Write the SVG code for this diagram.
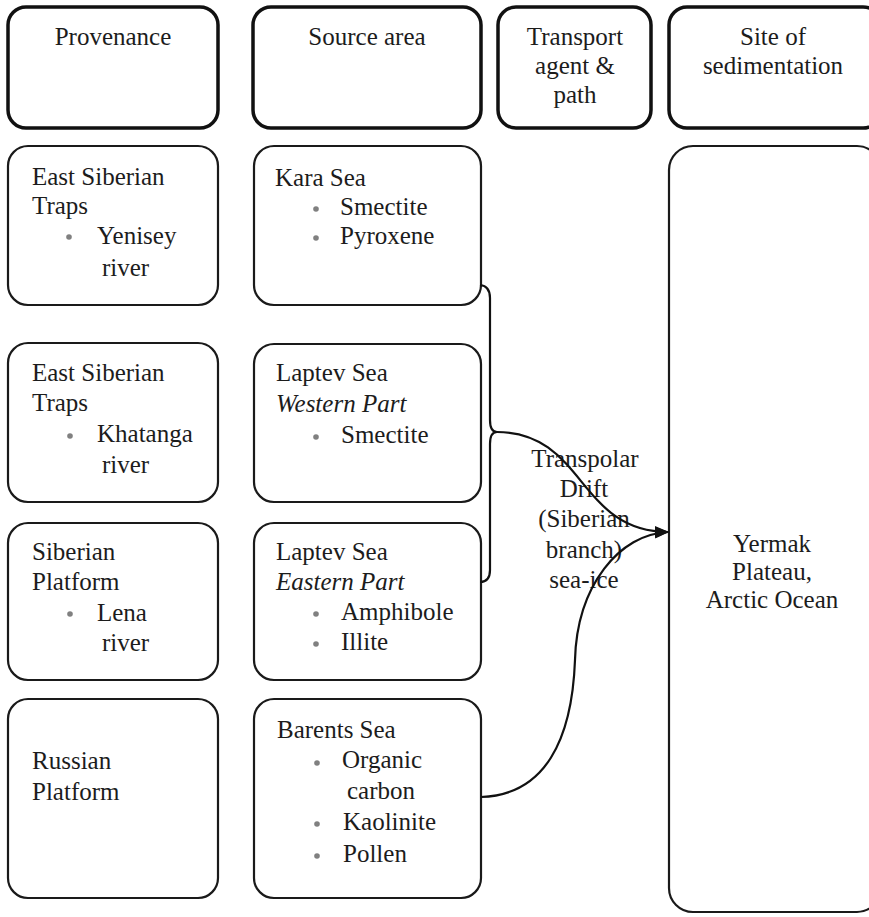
<svg xmlns="http://www.w3.org/2000/svg" width="869" height="917" viewBox="0 0 869 917">
<style>
text { font-family: "Liberation Serif", "Times New Roman", serif; font-size: 25px; fill: #1c1c1c; }
.mid { text-anchor: middle; }
.it { font-style: italic; }
.hdr { fill: #fff; stroke: #111; stroke-width: 3.5; }
.box { fill: #fff; stroke: #1a1a1a; stroke-width: 2.2; }
.dot { fill: #808080; }
.conn { fill: none; stroke: #111; stroke-width: 2.2; }
</style>
<defs>
<marker id="arr" markerWidth="14" markerHeight="12" refX="13" refY="6" orient="auto" markerUnits="userSpaceOnUse">
<path d="M0,0 L14,6 L0,12 Z" fill="#111"/>
</marker>
</defs>
<rect width="869" height="917" fill="#fff"/>

<g id="hdr-provenance">
<rect class="hdr" x="8" y="7" width="210" height="121" rx="18"/>
<text class="mid" x="113" y="45">Provenance</text>
</g>
<g id="hdr-source">
<rect class="hdr" x="253" y="7" width="228" height="121" rx="18"/>
<text class="mid" x="367" y="45">Source area</text>
</g>
<g id="hdr-transport">
<rect class="hdr" x="498" y="7" width="153" height="121" rx="18"/>
<text class="mid" x="575" y="45">Transport</text>
<text class="mid" x="575" y="74">agent &amp;</text>
<text class="mid" x="575" y="103">path</text>
</g>
<g id="hdr-site">
<rect class="hdr" x="669" y="7" width="212" height="121" rx="18"/>
<text class="mid" x="773" y="45">Site of</text>
<text class="mid" x="773" y="74">sedimentation</text>
</g>

<g id="prov-yenisey">
<rect class="box" x="8" y="146" width="210" height="159" rx="20"/>
<text x="32" y="185">East Siberian</text>
<text x="32" y="214">Traps</text>
<circle class="dot" cx="69" cy="237" r="2.8"/>
<text x="97" y="244">Yenisey</text>
<text x="102" y="276">river</text>
</g>
<g id="prov-khatanga">
<rect class="box" x="8" y="343" width="210" height="159" rx="20"/>
<text x="32" y="381">East Siberian</text>
<text x="32" y="411">Traps</text>
<circle class="dot" cx="70" cy="436" r="2.8"/>
<text x="97" y="442">Khatanga</text>
<text x="102" y="473">river</text>
</g>
<g id="prov-lena">
<rect class="box" x="8" y="523" width="210" height="157" rx="20"/>
<text x="32" y="560">Siberian</text>
<text x="32" y="590">Platform</text>
<circle class="dot" cx="70" cy="614" r="2.8"/>
<text x="97" y="621">Lena</text>
<text x="102" y="651">river</text>
</g>
<g id="prov-russian">
<rect class="box" x="8" y="699" width="210" height="199" rx="20"/>
<text x="32" y="769">Russian</text>
<text x="32" y="800">Platform</text>
</g>

<g id="src-kara">
<rect class="box" x="254" y="146" width="227" height="159" rx="20"/>
<text x="275" y="186">Kara Sea</text>
<circle class="dot" cx="316" cy="209" r="2.8"/>
<text x="340" y="215">Smectite</text>
<circle class="dot" cx="316" cy="238" r="2.8"/>
<text x="340" y="244">Pyroxene</text>
</g>
<g id="src-laptev-west">
<rect class="box" x="254" y="344" width="227" height="158" rx="20"/>
<text x="276" y="381">Laptev Sea</text>
<text class="it" x="276" y="412">Western Part</text>
<circle class="dot" cx="316" cy="437" r="2.8"/>
<text x="341" y="443">Smectite</text>
</g>
<g id="src-laptev-east">
<rect class="box" x="254" y="523" width="227" height="157" rx="20"/>
<text x="276" y="560">Laptev Sea</text>
<text class="it" x="276" y="590">Eastern Part</text>
<circle class="dot" cx="316" cy="614" r="2.8"/>
<text x="341" y="620">Amphibole</text>
<circle class="dot" cx="316" cy="644" r="2.8"/>
<text x="341" y="650">Illite</text>
</g>
<g id="src-barents">
<rect class="box" x="254" y="699" width="227" height="199" rx="20"/>
<text x="277" y="738">Barents Sea</text>
<circle class="dot" cx="317" cy="763" r="2.8"/>
<text x="342" y="768">Organic</text>
<text x="347" y="799">carbon</text>
<circle class="dot" cx="317" cy="824" r="2.8"/>
<text x="343" y="830">Kaolinite</text>
<circle class="dot" cx="317" cy="856" r="2.8"/>
<text x="343" y="862">Pollen</text>
</g>

<g id="site-yermak">
<rect class="box" x="669" y="146" width="212" height="766" rx="24"/>
<text class="mid" x="772" y="552">Yermak</text>
<text class="mid" x="772" y="580">Plateau,</text>
<text class="mid" x="772" y="608">Arctic Ocean</text>
</g>

<g id="transport-label">
<text class="mid" x="585" y="467">Transpolar</text>
<text class="mid" x="584" y="497">Drift</text>
<text class="mid" x="584" y="527">(Siberian</text>
<text class="mid" x="584" y="558">branch)</text>
<text class="mid" x="584" y="588">sea-ice</text>
</g>

<g id="connectors">
<path class="conn" d="M480,285 Q490,286 490,298 L490,420 Q490,432 497,432 Q490,432 490,444 L490,570 Q490,582 480,582"/>
<path class="conn" d="M497,432 C585,432 578,532 668,532" marker-end="url(#arr)"/>
<path class="conn" d="M481,797 C545,795 572,740 575,660 C577,585 620,534 668,532" marker-end="url(#arr)"/>
</g>
</svg>
